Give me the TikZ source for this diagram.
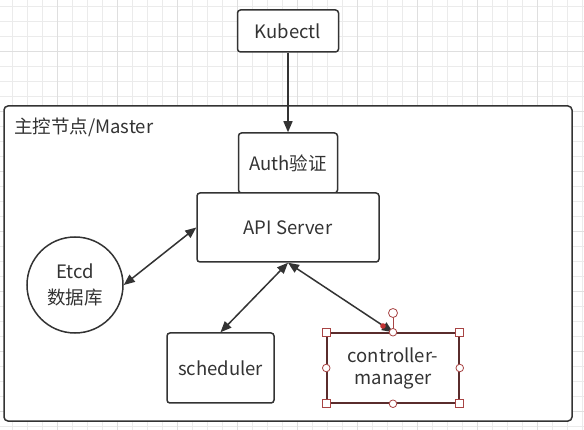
\documentclass[tikz,border=0pt]{standalone}
\usepackage{fontspec}
\setmainfont{Noto Sans CJK SC}
\usetikzlibrary{arrows.meta}
\definecolor{inkgray}{HTML}{333333}
\definecolor{gridfine}{HTML}{EBEBEB}
\definecolor{gridmajor}{HTML}{DFDFDF}
\definecolor{selred}{HTML}{A84444}
\definecolor{selborder}{HTML}{5A2C2C}
\begin{document}
\begin{tikzpicture}[x=1pt, y=-1pt,
	every node/.style = {font=\fontsize{18.5}{22}\selectfont, text=inkgray, inner sep=0pt},
	box/.style = {draw=inkgray, line width=1.5pt, rounded corners=3pt, fill=white, align=center},
	link/.style = {draw=inkgray, line width=1.5pt, -{Triangle[length=11pt, width=9pt]}},
	both/.style = {draw=inkgray, line width=1.5pt, {Triangle[length=11pt, width=9pt]}-{Triangle[length=11pt, width=9pt]}},
	gridline/.style = {draw=gridfine, line width=0.8pt},
	gridbold/.style = {draw=gridmajor, line width=0.8pt},
	handle/.style = {draw=selred, fill=white, line width=0.8pt}]

	\useasboundingbox (0,0) rectangle (584,430);
	\fill[white] (0,0) rectangle (584,430);
	\foreach \x in {12,27,...,582} \draw[gridline] (\x,0) -- (\x,430);
	\foreach \y in {6,21,...,426} \draw[gridline] (0,\y) -- (584,\y);
	\foreach \x in {57,117,...,537} \draw[gridbold] (\x,0) -- (\x,430);
	\foreach \y in {51,111,...,411} \draw[gridbold] (0,\y) -- (584,\y);

	\node[box, rounded corners=4pt, minimum width=568pt, minimum height=315pt] (master) at (288,263.5) {};
	\node[anchor=west] (title) at (14,127) {主控节点/Master};

	\node[box, minimum width=101pt, minimum height=42pt] (kubectl) at (288,31) {Kubectl};
	\node[box, minimum width=99pt, minimum height=60pt] (auth) at (288,163) {Auth验证};
	\node[box, minimum width=182pt, minimum height=69pt] (api) at (288,227.5) {API Server};
	\node[draw=inkgray, line width=1.5pt, circle, fill=white, minimum size=96pt, align=center,
		font=\fontsize{18.5}{26}\selectfont] (etcd) at (75,285) {Etcd\\数据库};
	\node[box, minimum width=107pt, minimum height=70pt] (scheduler) at (220.5,368) {scheduler};
	\node[box, draw=selborder, rounded corners=0pt, minimum width=132pt, minimum height=70pt] (ctrl) at (393,368) {controller-\\manager};

	\draw[link] (kubectl) -- (auth);
	\draw[both] (etcd.east) -- (api.west);
	\draw[both] (scheduler.north) -- (api.south);
	\draw[both] (api.south) -- (ctrl.north);

	\coordinate (rot) at (393,313);
	\draw[selred, line width=0.8pt] (ctrl.north) -- (rot);
	\draw[handle] (rot) circle (4.5pt);
	\foreach \c in {north west, north east, south west, south east}
		\draw[handle] ([shift={(-4,-4)}]ctrl.\c) rectangle ([shift={(4,4)}]ctrl.\c);
	\foreach \c in {north, south, east, west}
		\draw[handle] (ctrl.\c) circle (3.8pt);
	\fill[red!70!black!80] (383,326) circle (2.8pt);
\end{tikzpicture}
\end{document}
